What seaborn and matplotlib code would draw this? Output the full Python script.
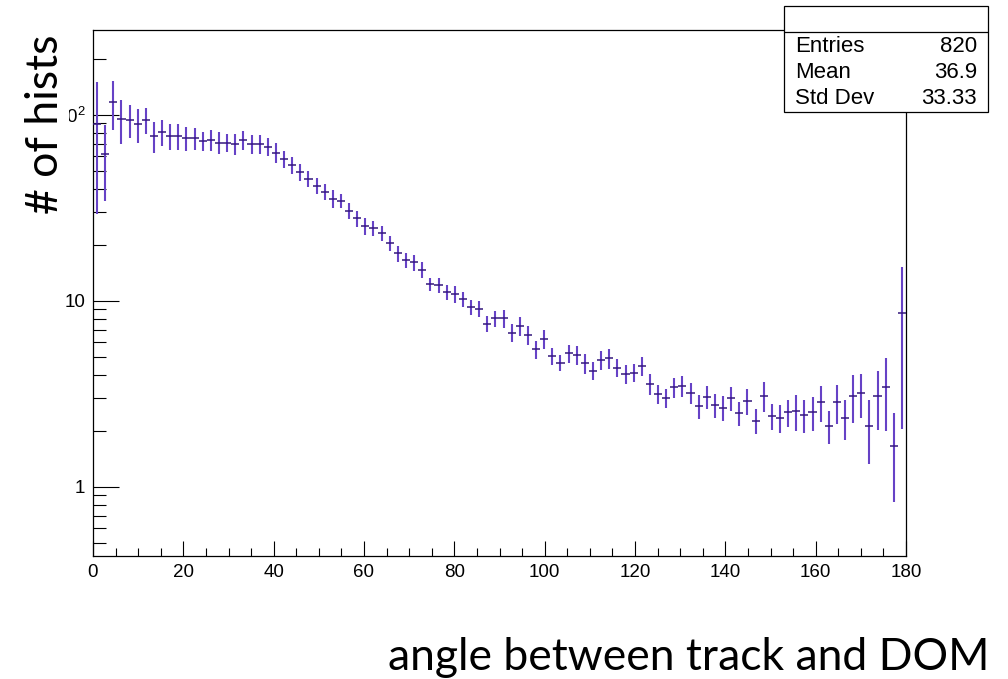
import numpy as np
import pandas as pd
import matplotlib
matplotlib.use("Agg")
import matplotlib.pyplot as plt
import seaborn as sns
from matplotlib.ticker import (MultipleLocator, FixedLocator, LogLocator,
                               FuncFormatter, NullFormatter)
from matplotlib.patches import Rectangle
from matplotlib.lines import Line2D

# ---- histogram contents: 100 bins over 0..180 degrees ----
angle_min, angle_max, n_bins = 0.0, 180.0, 100

counts = [89.5, 61.5, 118, 95.1, 94, 89.1, 94, 77.1, 81.3, 77.1,
          77.1, 75, 75, 72.5, 73.4, 71, 71, 69.8, 73.4, 69.7,
          69.7, 67.6, 62.7, 58, 54, 49.4, 45.5, 41.7, 38.7, 35.4,
          34.6, 30.5, 27.8, 25.3, 24.6, 23.1, 20.4, 18.0, 16.6, 16.1,
          14.7, 12.3, 12.2, 11.2, 10.9, 10.2, 9.3, 9.1, 7.55, 8.07,
          8.07, 6.76, 7.36, 6.56, 5.50, 6.22, 5.06, 4.66, 5.24, 5.13,
          4.62, 4.22, 4.82, 4.92, 4.38, 4.04, 4.12, 4.47, 3.58, 3.16,
          3.02, 3.44, 3.50, 3.21, 2.71, 3.06, 2.76, 2.67, 3.00, 2.49,
          2.90, 2.27, 3.10, 2.41, 2.36, 2.52, 2.56, 2.44, 2.52, 2.85,
          2.13, 2.85, 2.36, 3.10, 3.21, 2.13, 3.10, 3.46, 1.66, 8.65]

errors = [60, 27, 35, 25, 19, 18.5, 15, 15, 13, 12.7,
          12.5, 11, 10, 8.5, 9.4, 9.5, 8.2, 8.8, 8.5, 7.9,
          8.2, 7.4, 7.5, 6.3, 5.6, 5.0, 4.7, 4.0, 4.0, 4.0,
          3.2, 3.0, 2.8, 2.75, 2.35, 2.15, 1.9, 1.8, 1.5, 1.55,
          1.45, 1.05, 1.15, 1.05, 1.1, 0.93, 0.85, 0.95, 0.7, 0.8,
          0.9, 0.73, 0.88, 0.78, 0.6, 0.73, 0.55, 0.48, 0.58, 0.58,
          0.58, 0.45, 0.54, 0.63, 0.5, 0.48, 0.46, 0.53, 0.45, 0.38,
          0.35, 0.43, 0.45, 0.41, 0.4, 0.45, 0.4, 0.4, 0.44, 0.36,
          0.46, 0.34, 0.57, 0.38, 0.4, 0.43, 0.55, 0.48, 0.51, 0.62,
          0.43, 0.68, 0.57, 0.88, 0.86, 0.8, 1.08, 1.46, 0.83, 6.6]

x_ticks = [0, 20, 40, 60, 80, 100, 120, 140, 160, 180]
y_ticks = [1, 10, 100]
y_tick_labels = ["1", "10", r"$\mathregular{10^{2}}$"]

stat_names = ["Entries", "Mean", "Std Dev"]
stat_values = ["820", "36.9", "33.33"]

x_title = "angle between track and DOM"
y_title = "# of hists"

# ---- derived bin geometry ----
edges = np.linspace(angle_min, angle_max, n_bins + 1)
width = edges[1] - edges[0]
df = pd.DataFrame({"angle": 0.5 * (edges[:-1] + edges[1:]),
                   "count": counts, "err": errors})

sns.set_theme(style="ticks")
plt.rcParams.update({
    "font.family": ["Liberation Sans", "DejaVu Sans"],
    "mathtext.fontset": "custom",
    "mathtext.rm": "Liberation Sans",
    "axes.edgecolor": "black",
    "axes.linewidth": 0.9,
})

W, H = 1008, 679
fig = plt.figure(figsize=(W / 100, H / 100), dpi=100)
fig.patch.set_facecolor("white")
ax = fig.add_axes([93 / W, 1 - 556 / H, (906 - 93) / W, (556 - 30) / H])
ax.set_facecolor("white")

vcol = "#6642c6"
hcol = "#34177c"
eb = ax.errorbar(df["angle"], df["count"], xerr=width / 2, yerr=df["err"],
                 fmt="none", ecolor=vcol, elinewidth=1.5, capsize=0)
xcoll, ycoll = eb[2]
xcoll.set_color(hcol)
xcoll.set_linewidth(1.1)
xcoll.set_zorder(3)
ycoll.set_zorder(2)

ax.set_yscale("log")
ax.set_xlim(angle_min, angle_max)
ax.set_ylim(0.4256, 286)

ax.xaxis.set_major_locator(FixedLocator(x_ticks))
ax.xaxis.set_minor_locator(MultipleLocator(5))
ax.yaxis.set_major_locator(FixedLocator(y_ticks))
ax.yaxis.set_minor_locator(LogLocator(base=10, subs=np.arange(2, 10)))
ax.yaxis.set_minor_formatter(NullFormatter())
ax.yaxis.set_major_formatter(
    FuncFormatter(lambda v, p: y_tick_labels[y_ticks.index(round(v))]
                  if round(v) in y_ticks else ""))

ax.tick_params(which="both", direction="in", top=False, right=False,
               color="black", width=0.8, labelcolor="black", labelsize=13.5)
ax.tick_params(axis="x", which="major", length=10.8, pad=6)
ax.tick_params(axis="x", which="minor", length=5.5)
ax.tick_params(axis="y", which="major", length=18.5, pad=5.5)
ax.tick_params(axis="y", which="minor", length=9.1)
for s in ax.spines.values():
    s.set_visible(True)
    s.set_color("black")
    s.set_linewidth(0.9)
ax.grid(False)
ax.set_xlabel("")
ax.set_ylabel("")

# axis titles
fig.text(46 / W, 1 - 124 / H, y_title, rotation=90, ha="center", va="center",
         fontsize=32, family=["Lato", "DejaVu Sans"], color="black",
         bbox=dict(facecolor="white", edgecolor="none", pad=2), zorder=10)
fig.text(990 / W, 1 - 657 / H, x_title, ha="right", va="center",
         fontsize=32, family=["Lato", "DejaVu Sans"], color="black")

# statistics box
bx0, bx1, by0, by1, bdiv = 784, 988, 6, 112, 32
fig.add_artist(Rectangle((bx0 / W, 1 - by1 / H), (bx1 - bx0) / W,
                         (by1 - by0) / H, transform=fig.transFigure,
                         facecolor="white", edgecolor="black", lw=0.9,
                         zorder=20))
fig.add_artist(Line2D([bx0 / W, bx1 / W], [1 - bdiv / H, 1 - bdiv / H],
                      transform=fig.transFigure, color="black", lw=0.9,
                      zorder=21))
row_y = [47, 72, 98]
for name, val, yy in zip(stat_names, stat_values, row_y):
    fig.text(795 / W, 1 - yy / H, name, ha="left", va="center",
             fontsize=16, color="black", zorder=22)
    fig.text(977 / W, 1 - yy / H, val, ha="right", va="center",
             fontsize=16, color="black", zorder=22)

fig.savefig("out.png", dpi=100, facecolor="white")
